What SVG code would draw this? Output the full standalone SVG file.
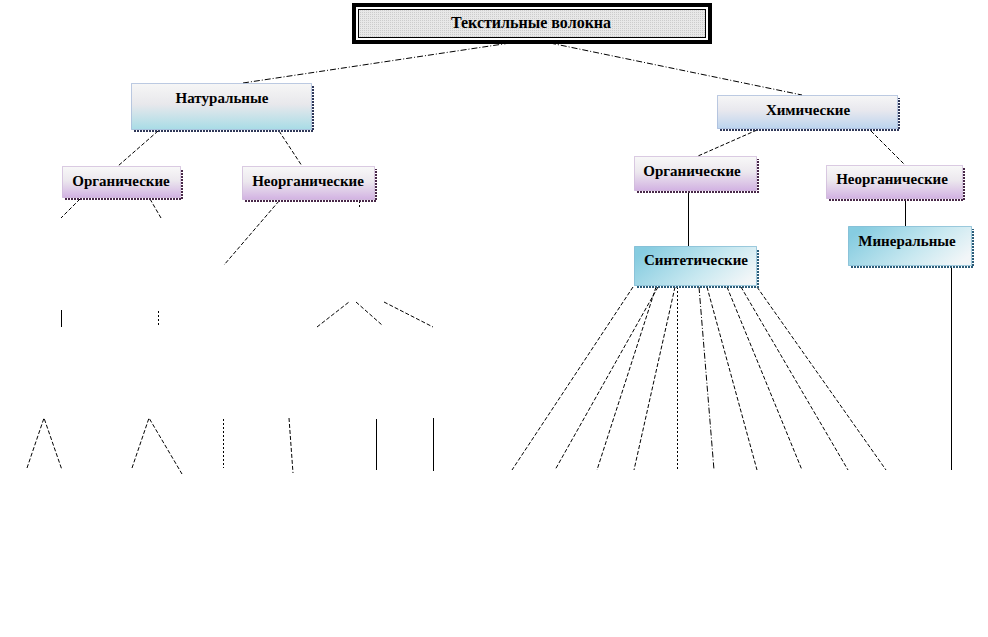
<svg xmlns="http://www.w3.org/2000/svg" width="988" height="637" viewBox="0 0 988 637">
<defs>
<linearGradient id="gNat" x1="0" y1="0" x2="0" y2="1">
<stop offset="0" stop-color="#f6f6f6"/><stop offset="0.45" stop-color="#e8e8ec"/><stop offset="1" stop-color="#a8dce6"/>
</linearGradient>
<linearGradient id="gChem" x1="0" y1="0" x2="0" y2="1">
<stop offset="0" stop-color="#f6f6f6"/><stop offset="0.45" stop-color="#e8e8ee"/><stop offset="1" stop-color="#bcd4ee"/>
</linearGradient>
<linearGradient id="gPink" x1="0" y1="0" x2="0" y2="1">
<stop offset="0" stop-color="#f8f8f8"/><stop offset="0.45" stop-color="#ece8ee"/><stop offset="1" stop-color="#d2b2e2"/>
</linearGradient>
<linearGradient id="gSyn" x1="0" y1="0.3" x2="1" y2="0.7">
<stop offset="0" stop-color="#86cce0"/><stop offset="0.6" stop-color="#c8e8f0"/><stop offset="1" stop-color="#f2f6f8"/>
</linearGradient>
<pattern id="pTitle" width="2" height="2" patternUnits="userSpaceOnUse">
<rect width="2" height="2" fill="#e8e8e8"/><rect width="1" height="1" fill="#cccccc"/>
</pattern>
</defs>
<style>
.t{font-family:"Liberation Serif","Times New Roman",serif;font-weight:bold;font-size:15px;fill:#000;text-anchor:middle}
.tt{font-size:16px}
.bb{stroke:#7c98c8;stroke-width:1;stroke-dasharray:1 1}
.bp{stroke:#b898c8;stroke-width:1;stroke-dasharray:1 1}
.bs{stroke:#4c9cc0;stroke-width:1;stroke-dasharray:1 1}
.sh{fill:none;stroke-width:2;stroke-dasharray:2 1}
.shb{stroke:#303858}
.shp{stroke:#482848}
.shs{stroke:#2c5c78}
.c{fill:none;stroke:#000;stroke-width:1}
.dd{stroke-dasharray:6 2 1 2}
.ds{stroke-dasharray:4 2}
.dt{stroke-dasharray:2 2}
</style>
<rect width="988" height="637" fill="#fff"/>
<g id="connectors">
<path class="c dd" d="M510,43 L243,83"/>
<path class="c dd" d="M550,43 L802,95"/>
<path class="c ds" d="M158,131 L118,166"/>
<path class="c ds" d="M279,131 L302,166"/>
<path class="c ds" d="M80,199 L61,218"/>
<path class="c ds" d="M150,199 L161,218"/>
<path class="c ds" d="M279,201 L224,265"/>
<path class="c dt" d="M359.5,201 L359.5,208"/>
<path class="c" d="M61.5,310 L61.5,327"/>
<path class="c dt" d="M158.5,311 L158.5,325"/>
<path class="c ds" d="M317,327 L349,302"/>
<path class="c ds" d="M356,302 L382,325"/>
<path class="c ds" d="M384,302 L433,327"/>
<path class="c ds" d="M27,468 L44,418 L62,470"/>
<path class="c ds" d="M132,468 L149,418 L182,474"/>
<path class="c dt" d="M223.5,419 L223.5,468"/>
<path class="c ds" d="M289,418 L293,473"/>
<path class="c" d="M376.5,419 L376.5,470"/>
<path class="c" d="M433.5,418 L433.5,471"/>
<path class="c ds" d="M757,130 L698,156"/>
<path class="c ds" d="M871,131 L905,165"/>
<path class="c" d="M688.5,192 L688.5,246"/>
<path class="c" d="M905.5,200 L905.5,226"/>
<path class="c" d="M951.5,267 L951.5,470"/>
<path class="c ds" d="M633,287 L512,470"/>
<path class="c ds" d="M658,287 L555,470"/>
<path class="c ds" d="M656,287 L597,470"/>
<path class="c ds" d="M675,287 L634,470"/>
<path class="c dt" d="M677.5,287 L677.5,470"/>
<path class="c dd" d="M699,287 L714,470"/>
<path class="c ds" d="M707,287 L757,470"/>
<path class="c ds" d="M727,287 L802,470"/>
<path class="c ds" d="M741,287 L848,470"/>
<path class="c ds" d="M757,287 L886,470"/>
</g>
<g id="title">
<rect x="354" y="5" width="356" height="37" fill="#fff" stroke="#000" stroke-width="4"/>
<rect x="358.5" y="9.5" width="347" height="28" fill="url(#pTitle)" stroke="#000" stroke-width="1"/>
<text class="t tt" x="531" y="28">Текстильные волокна</text>
</g>
<g id="natural">
<rect x="131.5" y="83.5" width="180" height="46" fill="url(#gNat)" class="bb"/>
<path class="sh shb" d="M134,131 H313 V86"/>
<text class="t" x="222" y="103">Натуральные</text>
</g>
<g id="nat-organic">
<rect x="62.5" y="166.5" width="118" height="31" fill="url(#gPink)" class="bp"/>
<path class="sh shp" d="M65,199 H182 V169"/>
<text class="t" x="121" y="186">Органические</text>
</g>
<g id="nat-inorganic">
<rect x="242.5" y="166.5" width="132" height="33" fill="url(#gPink)" class="bp"/>
<path class="sh shp" d="M245,201 H376 V169"/>
<text class="t" x="308" y="186">Неорганические</text>
</g>
<g id="chemical">
<rect x="717.5" y="95.5" width="180" height="33" fill="url(#gChem)" class="bb"/>
<path class="sh shb" d="M720,130 H899 V98"/>
<text class="t" x="808" y="115">Химические</text>
</g>
<g id="chem-organic">
<rect x="634.5" y="156.5" width="122" height="34" fill="url(#gPink)" class="bp"/>
<path class="sh shp" d="M637,192 H758 V159"/>
<text class="t" x="692" y="176">Органические</text>
</g>
<g id="chem-inorganic">
<rect x="826.5" y="165.5" width="136" height="33" fill="url(#gPink)" class="bp"/>
<path class="sh shp" d="M829,200 H964 V168"/>
<text class="t" x="892" y="184">Неорганические</text>
</g>
<g id="synthetic">
<rect x="634.5" y="246.5" width="122" height="39" fill="url(#gSyn)" class="bs"/>
<path class="sh shs" d="M637,287 H758 V249"/>
<text class="t" x="696" y="265">Синтетические</text>
</g>
<g id="mineral">
<rect x="848.5" y="226.5" width="123" height="39" fill="url(#gSyn)" class="bs"/>
<path class="sh shs" d="M851,267 H973 V229"/>
<text class="t" x="907" y="246">Минеральные</text>
</g>
</svg>
